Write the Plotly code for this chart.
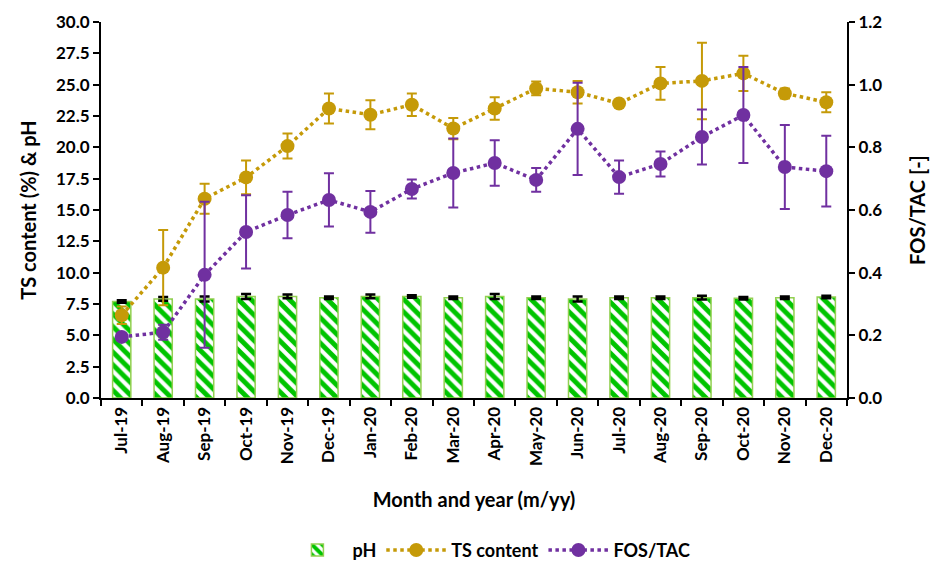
import plotly.graph_objects as go

months = ["Jul-19", "Aug-19", "Sep-19", "Oct-19", "Nov-19", "Dec-19", "Jan-20", "Feb-20", "Mar-20",
          "Apr-20", "May-20", "Jun-20", "Jul-20", "Aug-20", "Sep-20", "Oct-20", "Nov-20", "Dec-20"]

ph = [7.7, 7.9, 7.9, 8.1, 8.1, 8.0, 8.1, 8.1, 8.0, 8.1, 8.0, 7.9, 8.0, 8.0, 8.0, 7.95, 8.0, 8.05]
ph_err = [0.1, 0.15, 0.2, 0.2, 0.15, 0.1, 0.15, 0.1, 0.1, 0.2, 0.1, 0.2, 0.1, 0.1, 0.15, 0.1, 0.1, 0.1]

ts = [6.6, 10.4, 15.9, 17.6, 20.1, 23.1, 22.6, 23.4, 21.5, 23.1, 24.7, 24.4, 23.5, 25.1, 25.3, 25.9, 24.3, 23.6]
ts_err = [0.7, 3.0, 1.2, 1.35, 1.0, 1.2, 1.15, 0.9, 0.85, 0.9, 0.55, 0.9, 0.2, 1.3, 3.05, 1.4, 0.4, 0.8]

fos = [0.195, 0.21, 0.393, 0.53, 0.584, 0.632, 0.594, 0.667, 0.718, 0.75, 0.696, 0.859, 0.705, 0.747,
       0.833, 0.903, 0.737, 0.724]
fos_err = [0.01, 0.024, 0.233, 0.117, 0.074, 0.085, 0.067, 0.03, 0.11, 0.073, 0.038, 0.147, 0.053, 0.04,
           0.088, 0.153, 0.134, 0.113]

GOLD = "#C59A08"
PURPLE = "#7030A0"
FONT = "Lato"

fig = go.Figure()

fig.add_trace(go.Bar(
    x=months, y=ph, name="pH", width=0.44,
    marker=dict(color="white", line=dict(color="#92D050", width=1.5),
                pattern=dict(shape="\\", fgcolor="#00C400", fgopacity=1, bgcolor="white", size=9,
                             solidity=0.55)),
    error_y=dict(type="data", array=ph_err, color="black", thickness=2.5, width=5),
    yaxis="y",
))

fig.add_trace(go.Scatter(
    x=months, y=ts, name="TS content", mode="lines+markers",
    line=dict(color=GOLD, width=3.5, dash="dot"),
    marker=dict(color=GOLD, size=14, symbol="circle"),
    error_y=dict(type="data", array=ts_err, color=GOLD, thickness=2, width=5),
    yaxis="y",
))

fig.add_trace(go.Scatter(
    x=months, y=fos, name="FOS/TAC", mode="lines+markers",
    line=dict(color=PURPLE, width=3.5, dash="dot"),
    marker=dict(color=PURPLE, size=14, symbol="circle"),
    error_y=dict(type="data", array=fos_err, color=PURPLE, thickness=2, width=5),
    yaxis="y2",
))

fig.update_layout(
    width=933, height=561,
    margin=dict(l=101, r=86, t=22, b=163, autoexpand=False),
    plot_bgcolor="white", paper_bgcolor="white",
    font=dict(family=FONT, color="black", size=17),
    showlegend=True,
    legend=dict(orientation="h", x=0.52, xanchor="center", y=-0.405, yanchor="middle",
                itemwidth=60, font=dict(family=FONT, size=18, weight="bold"), traceorder="normal"),
    xaxis=dict(
        type="category", tickson="boundaries", ticks="outside", ticklen=6, tickwidth=2,
        tickcolor="black", showline=True, linecolor="black", linewidth=2, automargin=False,
        tickangle=-90, tickfont=dict(family=FONT, size=17, weight="bold"),
        title=dict(text="<b>Month and year (m/yy)</b>", font=dict(family=FONT, size=20), standoff=28),
        showgrid=False, range=[-0.5, 17.5],
    ),
    yaxis=dict(
        range=[0, 30], dtick=2.5, tickformat=".1f", ticks="outside", ticklen=6, tickwidth=2,
        tickcolor="black", showline=True, linecolor="black", linewidth=2, showgrid=False, zeroline=False,
        automargin=False, tickfont=dict(family=FONT, size=17, weight="bold"),
        title=dict(text="<b>TS content (%) & pH</b>", font=dict(family=FONT, size=20), standoff=14),
    ),
    yaxis2=dict(
        range=[0, 1.2], dtick=0.2, tickformat=".1f", overlaying="y", side="right",
        ticks="outside", ticklen=6, tickwidth=2, tickcolor="black", showline=True,
        linecolor="black", linewidth=2, showgrid=False, zeroline=False, automargin=False,
        tickfont=dict(family=FONT, size=17, weight="bold"),
        title=dict(text="<b>FOS/TAC [-]</b>", font=dict(family=FONT, size=20), standoff=30),
    ),
)

fig.write_html("out.html")
